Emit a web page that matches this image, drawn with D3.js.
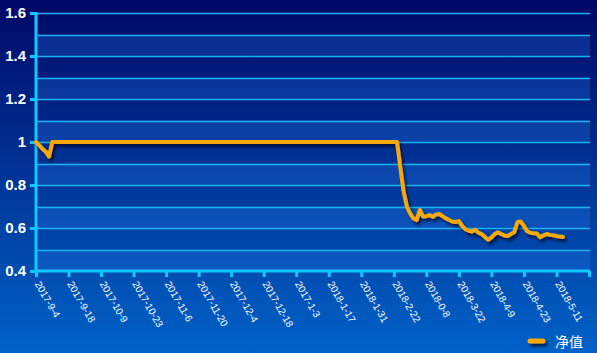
<!DOCTYPE html>
<html>
<head>
<meta charset="utf-8">
<script src="https://cdn.jsdelivr.net/npm/d3@7"></script>
<style>
html,body{margin:0;padding:0;background:#000a66;}
svg{display:block;}
</style>
</head>
<body>
<svg id="chart" width="597" height="353"></svg>
<script>
// ---- data ----
const tickLabels = ["2017-9-4","2017-9-18","2017-10-9","2017-10-23","2017-11-6","2017-11-20","2017-12-4","2017-12-18","2017-1-3","2018-1-17","2018-1-31","2018-2-22","2018-0-8","2018-3-22","2018-4-9","2018-4-23","2018-5-11"];
const tickIndex = [0,10,20,30,40,50,60,70,80,90,100,110,120,130,140,150,160];
const categoryCount = 171;
const seriesName = "净值";
const navStart = [1.0,0.985,0.968,0.955,0.932];
const navFlatCount = 107; // indices 5..111 at 1.0
const navTail = [0.88,0.77,0.70,0.668,0.645,0.637,0.684,0.653,0.655,0.66,0.652,0.663,0.665,0.655,0.645,0.637,0.630,0.628,0.632,0.610,0.595,0.588,0.583,0.592,0.578,0.572,0.558,0.545,0.556,0.572,0.58,0.572,0.565,0.563,0.572,0.58,0.628,0.63,0.61,0.585,0.578,0.576,0.574,0.557,0.566,0.572,0.568,0.566,0.563,0.56,0.558];
const navValues = navStart.concat(Array(navFlatCount).fill(1.0), navTail);
const yTicks = [0.4,0.6,0.8,1.0,1.2,1.4,1.6];
const yBands = [0.4,0.5,0.6,0.7,0.8,0.9,1.0,1.1,1.2,1.3,1.4,1.5];

// ---- layout ----
const W = 597, H = 353;
const svg = d3.select("#chart");
const defs = svg.append("defs");
const bg = defs.append("linearGradient").attr("id","bg").attr("x1",0).attr("y1",0).attr("x2",0).attr("y2",1);
bg.append("stop").attr("offset","0%").attr("stop-color","#000866");
bg.append("stop").attr("offset","100%").attr("stop-color","#0062c8");
const f = defs.append("filter").attr("id","shadow").attr("filterUnits","userSpaceOnUse")
  .attr("x",0).attr("y",0).attr("width",W).attr("height",H);
f.append("feDropShadow").attr("dx",2).attr("dy",3).attr("stdDeviation",1.8).attr("flood-color","#000020").attr("flood-opacity",0.7);

svg.append("rect").attr("width",W).attr("height",H).attr("fill","url(#bg)");

const x = d3.scaleLinear().domain([0, categoryCount-1]).range([36, 589]);
const y = d3.scaleLinear().domain([0.4,1.6]).range([271, 13]);

// bands
svg.append("g").selectAll("rect").data(yBands.filter((d,i)=>i%2===0)).join("rect")
  .attr("x", x(0)).attr("width", 590 - x(0))
  .attr("y", d=>y(d+0.1)).attr("height", d=>y(d)-y(d+0.1))
  .attr("fill","#2a80f0").attr("fill-opacity",0.26);

// gridlines
svg.append("g").selectAll("line").data(yBands.slice(1).concat([1.6])).join("line")
  .attr("x1", x(0)).attr("x2", 590)
  .attr("y1", d=>Math.round(y(d))+0.5).attr("y2", d=>Math.round(y(d))+0.5)
  .attr("stroke","#18b4f0").attr("stroke-width",1.6);

// y axis
const yAxis = svg.append("g").attr("transform",`translate(${x(0)},0)`)
  .call(d3.axisLeft(y).tickValues(yTicks).tickSize(6).tickPadding(4).tickFormat(d=>String(+d.toFixed(1))));
yAxis.select(".domain").remove();
yAxis.selectAll(".tick line").attr("stroke","#10c8ff").attr("stroke-width",3);
yAxis.selectAll(".tick text").attr("fill","#ffffff").attr("font-family","Liberation Sans, Arial, sans-serif")
  .attr("font-size",15).attr("font-weight","bold");
svg.append("line").attr("x1",x(0)).attr("x2",x(0)).attr("y1",12).attr("y2",272)
  .attr("stroke","#10c8ff").attr("stroke-width",3);

// x axis
const xAxis = svg.append("g").attr("transform",`translate(0,271)`)
  .call(d3.axisBottom(x).tickValues(tickIndex.concat([categoryCount-1])).tickSize(6)
    .tickFormat((d)=>{const k=tickIndex.indexOf(d); return k>=0?tickLabels[k]:"";}));
xAxis.select(".domain").remove();
xAxis.selectAll(".tick line").attr("stroke","#10c8ff").attr("stroke-width",3);
xAxis.selectAll(".tick text").attr("fill","#ffffff").attr("font-family","Liberation Sans, Arial, sans-serif")
  .attr("font-size",10).attr("text-anchor","start")
  .attr("x",0).attr("y",0).attr("dy","0.35em")
  .attr("transform","translate(1,11) rotate(60)");
svg.append("line").attr("x1",x(0)-1.5).attr("x2",590).attr("y1",271).attr("y2",271)
  .attr("stroke","#10c8ff").attr("stroke-width",3);

// line
const line = d3.line().x((d,i)=>x(i)).y(d=>y(d)).curve(d3.curveLinear);
svg.append("path").datum(navValues).attr("d",line).attr("fill","none")
  .attr("stroke","#f5a90a").attr("stroke-width",4).attr("stroke-linejoin","round").attr("stroke-linecap","round")
  .attr("filter","url(#shadow)");

// legend
const lg = svg.append("g");
lg.append("line").attr("x1",530).attr("x2",543).attr("y1",341).attr("y2",341)
  .attr("stroke","#f5a90a").attr("stroke-width",5).attr("stroke-linecap","round").attr("filter","url(#shadow)");
lg.append("text").attr("x",555).attr("y",347).text(seriesName)
  .attr("fill","#ffffff").attr("font-family","Noto Sans CJK SC, sans-serif").attr("font-size",14);
</script>
</body>
</html>
